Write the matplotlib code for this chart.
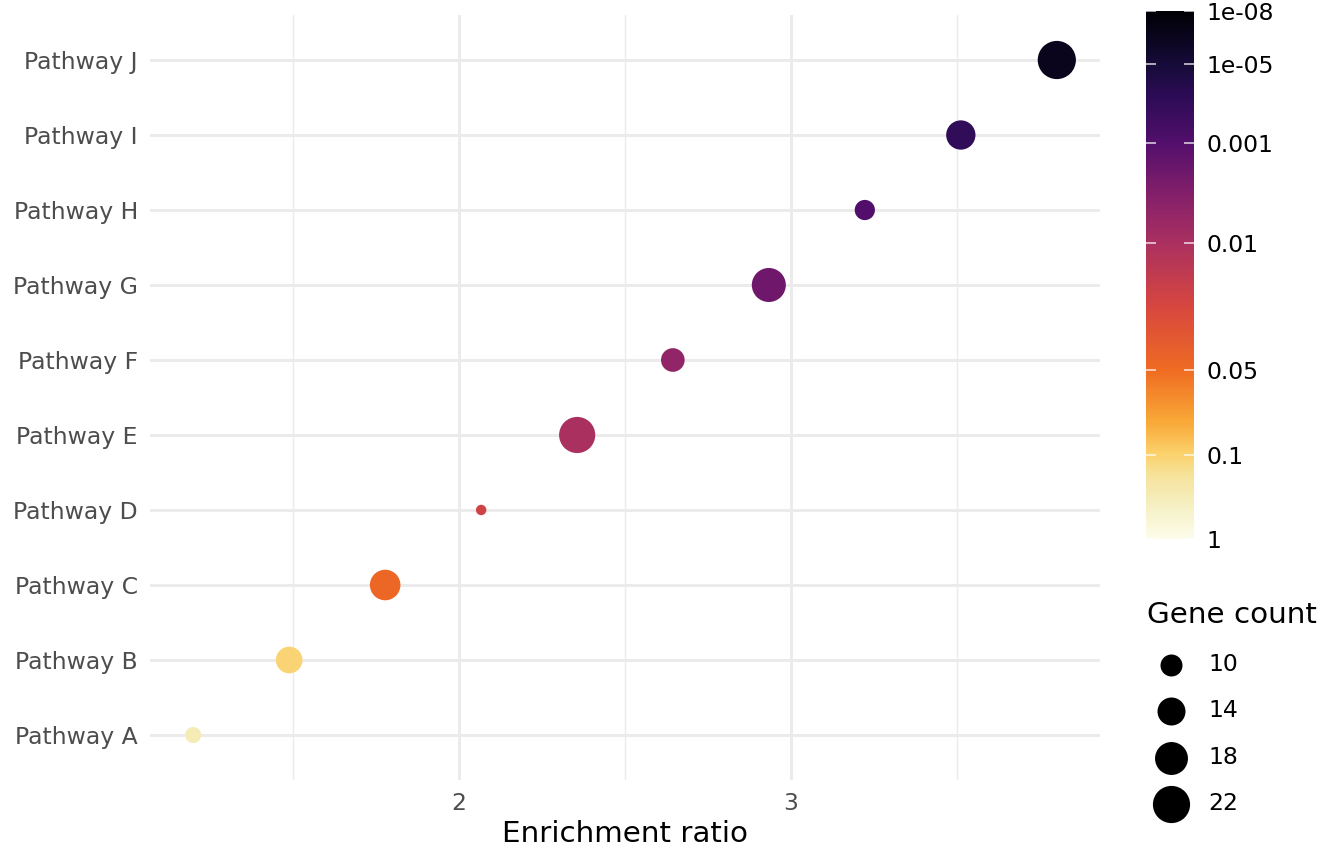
#!/usr/bin/env python3
"""
Pathway enrichment dot plot (enrichment ratio vs pathway,
colour = p-value, size = gene count)
"""

import numpy as np
import matplotlib
matplotlib.use("Agg")
import matplotlib.pyplot as plt
from matplotlib.colors import LinearSegmentedColormap, FuncNorm
from matplotlib.cm import ScalarMappable

# ---- data ----
pathways = ["Pathway A", "Pathway B", "Pathway C", "Pathway D", "Pathway E",
            "Pathway F", "Pathway G", "Pathway H", "Pathway I", "Pathway J"]
enrichment = [1.2, 1.489, 1.778, 2.067, 2.356, 2.644, 2.933, 3.222, 3.511, 3.8]
gene_count = [7, 13, 16, 5, 21, 11, 19, 9, 15, 23]
p_values = [0.3, 0.11, 0.045, 0.02, 0.01, 0.005, 0.002, 0.001, 1e-4, 3e-7]

pval_breaks = [1, 0.1, 0.05, 0.01, 0.001, 1e-5, 1e-8]
pval_labels = ["1", "0.1", "0.05", "0.01", "0.001", "1e-05", "1e-08"]
# where each break sits along the colour bar (0 = bottom, 1 = top)
break_pos = [0.0, 0.159, 0.32, 0.561, 0.75, 0.90, 1.0]
size_breaks = [10, 14, 18, 22]

GREY_TEXT = "#4d4d4d"
GRID = "#ebebeb"

# colour ramp (inferno-like, fading to near white at p = 1)
cmap = LinearSegmentedColormap.from_list("pval", [
    (0.00, "#fdfcea"), (0.06, "#f5f0c4"), (0.12, "#f6e29a"),
    (0.159, "#fbd26d"), (0.22, "#f9a938"), (0.32, "#ef6b22"),
    (0.44, "#d7473f"), (0.561, "#aa3060"), (0.65, "#85206a"),
    (0.75, "#520f6c"), (0.84, "#2c0b55"), (0.90, "#160b39"),
    (1.00, "#000004")])

u_breaks = -np.log10(pval_breaks)


def fwd(u):
    return np.interp(u, u_breaks, break_pos)


def inv(f):
    return np.interp(f, break_pos, u_breaks)


norm = FuncNorm((fwd, inv), vmin=0, vmax=8)


def size_of(n):
    # area linear in gene count (diameter in px at 192 dpi -> pt^2)
    return 0.1406 * (75 * np.asarray(n, dtype=float) - 266)


plt.rcParams["font.family"] = "DejaVu Sans"

fig = plt.figure(figsize=(7, 4.5), dpi=192)
ax = fig.add_axes([150 / 1344, 84 / 864, 950 / 1344, 765 / 864])

ypos = np.arange(len(pathways))
ax.scatter(enrichment, ypos, s=size_of(gene_count),
           c=-np.log10(p_values), cmap=cmap, norm=norm,
           linewidths=0, zorder=3)

ax.set_xlim(1.07, 3.93)
ax.set_ylim(-0.6, len(pathways) - 0.4)
ax.set_xticks([2, 3])
ax.set_xticks([1.5, 2.5, 3.5], minor=True)
ax.set_yticks(ypos)
ax.set_yticklabels(pathways)

ax.grid(True, which="major", color=GRID, linewidth=1.1)
ax.grid(True, which="minor", axis="x", color=GRID, linewidth=0.55)
ax.set_axisbelow(True)
for sp in ax.spines.values():
    sp.set_visible(False)
ax.tick_params(axis="both", which="both", length=0, labelsize=8.8,
               labelcolor=GREY_TEXT, pad=4.5)
ax.set_xlabel("Enrichment ratio", fontsize=11, color="black", labelpad=2)

# ---- colour bar ----
cax = fig.add_axes([1146 / 1344, 1 - 539 / 864, 48 / 1344, 528 / 864])
sm = ScalarMappable(norm=norm, cmap=cmap)
cb = fig.colorbar(sm, cax=cax)
cb.outline.set_visible(False)
cb.set_ticks(list(u_breaks))
cb.set_ticklabels(pval_labels)
cax.tick_params(which="major", direction="in", length=3.6, width=0.6,
                color=(1, 1, 1, 0.8), left=True, right=True,
                labelsize=8.8, labelcolor="black", pad=4.5)
cax.minorticks_off()

# ---- size legend ----
handles = [ax.scatter([], [], s=size_of(n), color="black", linewidths=0)
           for n in size_breaks]
leg = fig.legend(handles, [str(n) for n in size_breaks], title="Gene count",
                 loc="upper left", bbox_to_anchor=(1138 / 1344, 1 - 592 / 864),
                 frameon=False, fontsize=8.8, title_fontsize=11,
                 labelspacing=1.0, handletextpad=0.6, borderaxespad=0,
                 alignment="left")

fig.savefig("out.png", dpi=192)
plt.close(fig)
